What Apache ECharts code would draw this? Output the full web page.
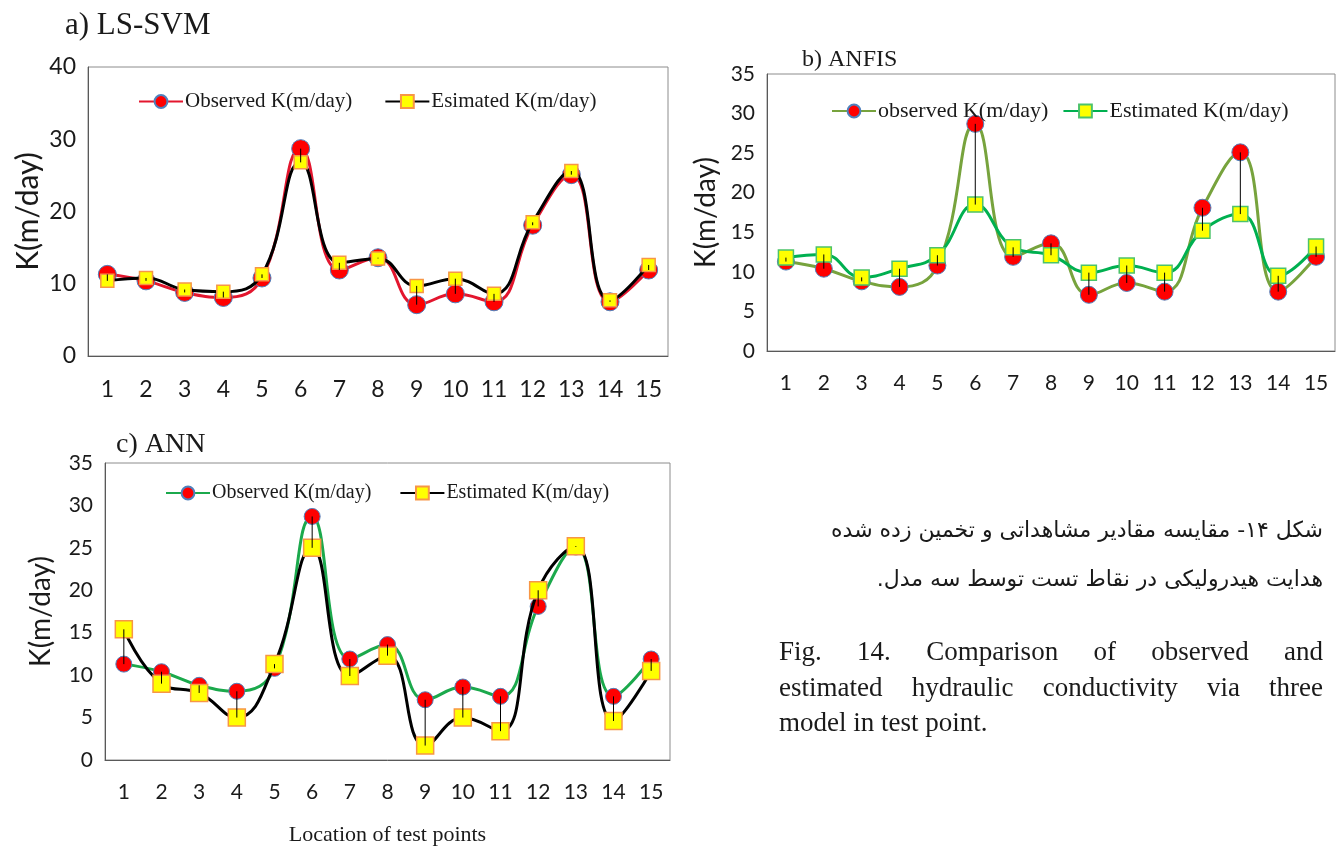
<!DOCTYPE html>
<html>
<head>
<meta charset="utf-8">
<style>
  html, body { margin: 0; padding: 0; background: #ffffff; }
  #chart { width: 1338px; height: 847px; }
</style>
<script src="https://cdn.jsdelivr.net/npm/echarts@6/dist/echarts.min.js"></script>
</head>
<body>
<div id="chart"></div>
<script>
// ---------- data ----------
const categories = ['1','2','3','4','5','6','7','8','9','10','11','12','13','14','15'];
const observedK = [11.3, 10.4, 8.8, 8.1, 10.8, 28.7, 11.9, 13.6, 7.1, 8.6, 7.5, 18.1, 25.1, 7.5, 11.9];
const estimatedLSSVM = [10.4, 10.8, 9.2, 8.9, 11.3, 26.8, 12.9, 13.5, 9.7, 10.7, 8.6, 18.5, 25.6, 7.7, 12.6];
const estimatedANFIS = [11.8, 12.2, 9.3, 10.4, 12.1, 18.5, 13.1, 12.1, 9.9, 10.8, 9.9, 15.2, 17.3, 9.5, 13.2];
const estimatedANN = [15.4, 9.0, 7.9, 5.0, 11.3, 25.0, 9.9, 12.3, 1.7, 5.0, 3.4, 20.0, 25.2, 4.6, 10.5];
const panelTitles = ['a) LS-SVM', 'b) ANFIS', 'c) ANN'];
const yAxisName = 'K(m/day)';
const xAxisName = 'Location of test points';
const captionFa = ['شکل ۱۴- مقایسه مقادیر مشاهداتی و تخمین زده شده', 'هدایت هیدرولیکی در نقاط تست توسط سه مدل.\u200F'];
const captionEnLines = [
  ['Fig.', '14.', 'Comparison', 'of', 'observed', 'and'],
  ['estimated', 'hydraulic', 'conductivity', 'via', 'three'],
  ['model in test point.']
];

// ---------- styles ----------
const serif = '"Liberation Serif", "Times New Roman", serif';
const sans = 'Lato, "Liberation Sans", sans-serif';

const panels = [
  { grid: {left: 88, top: 67, width: 580, height: 289}, max: 40, interval: 10,
    est: estimatedLSSVM, obsName: 'Observed K(m/day)', estName: 'Esimated K(m/day)',
    obsLine: '#E3162E', estLine: '#000000', circleBorder: '#4F81BD', squareBorder: '#F79646',
    circleSize: 18, squareSize: 13, labelSize: 23, nameSize: 30, nameGap: 45,
    legend: {left: 133, top: 86, itemGap: 32, fontSize: 21},
    title: {left: 60, top: 5, fontSize: 31} },
  { grid: {left: 767, top: 74, width: 568, height: 277}, max: 35, interval: 5,
    est: estimatedANFIS, obsName: 'observed K(m/day)', estName: 'Estimated K(m/day)',
    obsLine: '#77A33D', estLine: '#00B050', circleBorder: '#4F81BD', squareBorder: '#4CC36A',
    circleSize: 17, squareSize: 15, labelSize: 21, nameSize: 28, nameGap: 47,
    legend: {left: 826, top: 95, itemGap: 14, fontSize: 22},
    title: {left: 797, top: 43, fontSize: 24} },
  { grid: {left: 105, top: 463, width: 565, height: 303}, max: 35, interval: 5,
    est: estimatedANN, obsName: 'Observed K(m/day)\u200B', estName: 'Estimated K(m/day)\u200B',
    obsLine: '#1BA94C', estLine: '#000000', circleBorder: '#4F81BD', squareBorder: '#F79646',
    circleSize: 16, squareSize: 17, labelSize: 21, nameSize: 28, nameGap: 50,
    legend: {left: 160, top: 478, itemGap: 28, fontSize: 20},
    title: {left: 111, top: 426, fontSize: 28} }
];

const grids = [], xAxes = [], yAxes = [], series = [], legends = [], titles = [];
panels.forEach((p, i) => {
  grids.push(Object.assign({ show: true, borderColor: '#8c8c8c', borderWidth: 1, backgroundColor: 'transparent' }, p.grid));
  xAxes.push({
    type: 'category', gridIndex: i, data: categories, boundaryGap: true,
    axisLine: { lineStyle: { color: '#595959', width: 1 } },
    axisTick: { show: false },
    axisLabel: { color: '#1a1a1a', fontSize: p.labelSize, fontFamily: sans, margin: 22 },
    name: i === 2 ? xAxisName : '', nameLocation: 'middle', nameGap: 64,
    nameTextStyle: { fontFamily: serif, fontSize: 22, color: '#1a1a1a' }
  });
  yAxes.push({
    type: 'value', gridIndex: i, min: 0, max: p.max, interval: p.interval,
    axisLine: { show: true, lineStyle: { color: '#595959', width: 1 } },
    axisTick: { show: false },
    splitLine: { show: false },
    axisLabel: { color: '#1a1a1a', fontSize: p.labelSize, fontFamily: sans, margin: 12 },
    name: yAxisName, nameLocation: 'middle', nameGap: p.nameGap, nameRotate: 90,
    nameTextStyle: { fontFamily: sans, fontSize: p.nameSize, color: '#1a1a1a' }
  });
  // high-low connecting lines
  series.push({
    type: 'custom', xAxisIndex: i, yAxisIndex: i, z: 6, silent: true,
    data: categories.map((c, k) => [k, observedK[k], p.est[k]]),
    renderItem: (params, api) => {
      const a = api.coord([api.value(0), api.value(1)]);
      const b = api.coord([api.value(0), api.value(2)]);
      return { type: 'line', shape: { x1: a[0], y1: a[1], x2: b[0], y2: b[1] },
               style: { stroke: '#000', lineWidth: 1 } };
    }
  });
  series.push({
    type: 'line', name: p.obsName, xAxisIndex: i, yAxisIndex: i, data: observedK,
    smooth: 0.45, symbol: 'circle', symbolSize: p.circleSize, z: 3,
    lineStyle: { color: p.obsLine, width: 3 },
    itemStyle: { color: '#FF0000', borderColor: p.circleBorder, borderWidth: 1 }
  });
  series.push({
    type: 'line', name: p.estName, xAxisIndex: i, yAxisIndex: i, data: p.est,
    smooth: 0.45, symbol: 'rect', symbolSize: p.squareSize, z: 4,
    lineStyle: { color: p.estLine, width: 3 },
    itemStyle: { color: '#FFFF00', borderColor: p.squareBorder, borderWidth: 1.5 }
  });
  legends.push({
    left: p.legend.left, top: p.legend.top, orient: 'horizontal',
    itemWidth: 44, itemHeight: 16, itemGap: p.legend.itemGap,
    data: [p.obsName, p.estName],
    textStyle: { fontFamily: serif, fontSize: p.legend.fontSize, color: '#1a1a1a', padding: [0,0,0,-3] },
    selectedMode: false
  });
  titles.push({
    text: panelTitles[i], left: p.title.left, top: p.title.top,
    textStyle: { fontFamily: serif, fontSize: p.title.fontSize, fontWeight: 'normal', color: '#1a1a1a' }
  });
});

// caption graphics
const graphics = [];
const faY = [531, 580];
captionFa.forEach((t, k) => {
  graphics.push({ type: 'text', x: 1323, y: faY[k],
    style: { text: t, font: '22px "DejaVu Sans", sans-serif', fill: '#1a1a1a', textAlign: 'right', textVerticalAlign: 'middle' } });
});
// justified English caption
const enFont = '27px "Liberation Serif", serif';
const measureCtx = document.createElement('canvas').getContext('2d');
measureCtx.font = enFont;
const enLeft = 779, enRight = 1323;
const enY = [653, 689, 724];
captionEnLines.forEach((words, li) => {
  const widths = words.map(w => measureCtx.measureText(w).width);
  const total = widths.reduce((s, v) => s + v, 0);
  const justify = li < captionEnLines.length - 1 && words.length > 1;
  const gap = justify ? (enRight - enLeft - total) / (words.length - 1) : 0;
  let x = enLeft;
  words.forEach((w, wi) => {
    graphics.push({ type: 'text', x: x, y: enY[li],
      style: { text: w, font: enFont, fill: '#1a1a1a', textAlign: 'left', textVerticalAlign: 'middle' } });
    x += widths[wi] + gap;
  });
});

const chart = echarts.init(document.getElementById('chart'), null, { renderer: 'canvas' });
chart.setOption({
  backgroundColor: '#ffffff',
  animation: false,
  title: titles,
  legend: legends,
  grid: grids,
  xAxis: xAxes,
  yAxis: yAxes,
  series: series,
  graphic: graphics
});
</script>
</body>
</html>
